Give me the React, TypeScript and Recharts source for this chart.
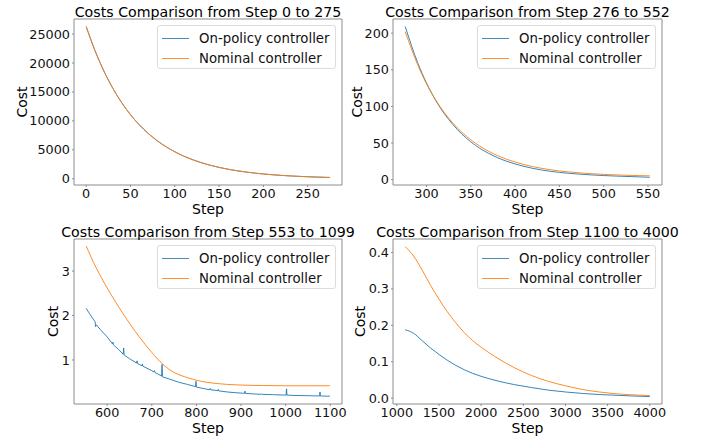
import React from "react";
import { Label, Line, LineChart, ReferenceArea, XAxis, YAxis } from "recharts";

// panel 1: steps 0-275
const steps1 = [0, 10, 20, 30, 40, 50, 60, 70, 80, 90, 100, 110, 120, 130, 140, 150, 160, 170, 180, 190, 200, 210, 220, 230, 240, 250, 260, 270, 275];
const onPolicy1 = [26300, 22120, 18610, 15650, 13165, 11070, 9315, 7835, 6590, 5545, 4665, 3920, 3300, 2775, 2335, 1963, 1652, 1390, 1169, 983, 827, 696, 585, 492, 414, 348, 293, 246, 225];
const nominal1 = [26300, 22120, 18610, 15650, 13165, 11070, 9315, 7835, 6590, 5545, 4665, 3920, 3300, 2775, 2335, 1963, 1652, 1390, 1169, 983, 827, 696, 585, 492, 414, 348, 293, 246, 225];

// panel 2: steps 276-552
const steps2 = [276, 290, 300, 310, 320, 330, 340, 350, 360, 370, 380, 390, 400, 420, 440, 460, 480, 500, 520, 540, 552];
const onPolicy2 = [209, 159.8, 132, 109, 90.3, 74.9, 62.1, 51.6, 43, 36, 30.1, 25.3, 21.4, 15.4, 11.4, 8.7, 6.9, 5.6, 4.6, 3.8, 3.2];
const nominal2 = [202, 157, 131, 109.5, 91.7, 76.9, 64.6, 54.4, 45.9, 38.8, 32.9, 28, 24, 17.8, 13.5, 10.6, 8.55, 7.15, 6.2, 5.5, 5.2];

// panel 3: steps 553-1099 (on-policy run has short spikes)
const steps3a = [553, 560, 570, 573, 574, 576, 585, 600, 612, 613, 614, 625, 636, 637, 638, 650, 666, 667, 668, 678, 679, 680, 700, 705, 706, 707, 722, 723, 724, 740, 760, 780, 798, 799, 800, 820, 830, 831, 832, 848, 849, 850, 870, 886, 887, 888, 908, 909, 910, 930, 945, 946, 947, 970, 1001, 1002, 1003, 1030, 1050, 1076, 1077, 1078, 1099];
const onPolicy3 = [2.16, 2.05, 1.9, 1.86, 1.75, 1.79, 1.68, 1.52, 1.36, 1.4, 1.34, 1.24, 1.13, 1.27, 1.11, 1.03, 0.93, 0.98, 0.92, 0.87, 0.91, 0.86, 0.76, 0.73, 0.76, 0.72, 0.64, 0.9, 0.62, 0.57, 0.5, 0.45, 0.4, 0.52, 0.39, 0.35, 0.33, 0.36, 0.33, 0.31, 0.34, 0.305, 0.28, 0.265, 0.28, 0.263, 0.25, 0.3, 0.248, 0.235, 0.228, 0.24, 0.227, 0.22, 0.21, 0.35, 0.208, 0.2, 0.197, 0.19, 0.28, 0.19, 0.185];
const steps3b = [553, 575, 600, 635, 672, 700, 725, 750, 781, 802, 846, 890, 950, 1000, 1050, 1099];
const nominal3 = [3.56, 3.08, 2.62, 2.05, 1.52, 1.17, 0.9, 0.72, 0.6, 0.54, 0.47, 0.44, 0.425, 0.42, 0.42, 0.42];

// panel 4: steps 1100-4000
const steps4 = [1100, 1200, 1300, 1400, 1500, 1600, 1700, 1800, 1900, 2000, 2200, 2400, 2600, 2800, 3000, 3200, 3400, 3600, 3800, 4000];
const onPolicy4 = [0.188, 0.178, 0.158, 0.138, 0.12, 0.104, 0.09, 0.078, 0.068, 0.06, 0.047, 0.037, 0.029, 0.022, 0.017, 0.013, 0.01, 0.008, 0.006, 0.0045];
const nominal4 = [0.416, 0.39, 0.352, 0.31, 0.272, 0.237, 0.207, 0.18, 0.158, 0.14, 0.109, 0.083, 0.062, 0.046, 0.034, 0.024, 0.017, 0.012, 0.009, 0.007];

const ticksX1 = [0, 50, 100, 150, 200, 250];
const ticksY1 = [0, 5000, 10000, 15000, 20000, 25000];
const ticksX2 = [300, 350, 400, 450, 500, 550];
const ticksY2 = [0, 50, 100, 150, 200];
const ticksX3 = [600, 700, 800, 900, 1000, 1100];
const ticksY3 = [1, 2, 3];
const ticksX4 = [1000, 1500, 2000, 2500, 3000, 3500, 4000];
const ticksY4 = [0, 0.1, 0.2, 0.3, 0.4];

const FONT = "'DejaVu Sans', sans-serif";
const BLUE = "#1f77b4";
const ORANGE = "#ff7f0e";
const SPINE = "#8c8c8c";

const toPoints = (steps: number[], values: number[]) =>
  steps.map((step, i) => ({ step, cost: values[i] }));

type PanelProps = {
  title: string;
  left: number;
  top: number;
  width: number;
  marginTop: number;
  marginRight: number;
  yAxisWidth: number;
  yLabelX: number;
  xDomain: [number, number];
  yDomain: [number, number];
  xTicks: number[];
  yTicks: number[];
  yFormat?: (v: number) => string;
  onPolicy: { step: number; cost: number }[];
  nominal: { step: number; cost: number }[];
  blueType: "monotone" | "linear";
};

const HEIGHT = 219;
const X_AXIS_H = 34;

function LegendBox({ x, y }: { x: number; y: number }) {
  const rows = [
    { name: "On-policy controller", color: BLUE },
    { name: "Nominal controller", color: ORANGE }
  ];
  return (
    <div
      style={{
        position: "absolute",
        left: x,
        top: y,
        width: 179,
        height: 44,
        boxSizing: "border-box",
        border: "1px solid #dcdcdc",
        borderRadius: 3,
        background: "rgba(255,255,255,0.8)",
        fontFamily: FONT,
        fontSize: 13.3,
        color: "#111"
      }}
    >
      {rows.map((r, i) => (
        <div
          key={r.name}
          style={{
            position: "absolute",
            left: 4,
            top: 2 + i * 20,
            height: 20,
            display: "flex",
            alignItems: "center",
            whiteSpace: "nowrap"
          }}
        >
          <span style={{ display: "inline-block", width: 27, height: 1, background: r.color, opacity: 0.85, marginRight: 10 }} />
          <span>{r.name}</span>
        </div>
      ))}
    </div>
  );
}

function Panel(p: PanelProps) {
  const plotLeft = p.yAxisWidth;
  const plotRight = p.width - p.marginRight;
  const plotBottom = HEIGHT - X_AXIS_H;
  const plotTop = p.marginTop;
  const cx = (plotLeft + plotRight) / 2;
  const cy = (plotTop + plotBottom) / 2;
  const tickStyle = { fontSize: 12.8, fontFamily: FONT, fill: "#111" };

  return (
    <div style={{ position: "absolute", left: p.left, top: p.top, width: p.width, height: HEIGHT }}>
      <LineChart
        width={p.width}
        height={HEIGHT}
        margin={{ top: p.marginTop, right: p.marginRight, bottom: 0, left: 0 }}
      >
        <XAxis
          type="number"
          dataKey="step"
          domain={p.xDomain}
          ticks={p.xTicks}
          allowDataOverflow
          height={X_AXIS_H}
          axisLine={false}
          tickSize={2}
          tickMargin={2}
          tickLine={{ stroke: SPINE }}
          tick={tickStyle}
          interval={0}
        >
          <Label
            content={() => (
              <text x={cx} y={plotBottom + 29} textAnchor="middle" fontSize={14} fontFamily={FONT} fill="#000">
                Step
              </text>
            )}
          />
        </XAxis>
        <YAxis
          type="number"
          domain={p.yDomain}
          ticks={p.yTicks}
          allowDataOverflow
          width={p.yAxisWidth}
          axisLine={false}
          tickSize={2}
          tickMargin={2}
          tickLine={{ stroke: SPINE }}
          tick={tickStyle}
          tickFormatter={p.yFormat}
          interval={0}
        >
          <Label
            content={() => (
              <text
                x={p.yLabelX}
                y={cy}
                transform={`rotate(-90 ${p.yLabelX} ${cy})`}
                textAnchor="middle"
                dominantBaseline="central"
                fontSize={14}
                fontFamily={FONT}
                fill="#000"
              >
                Cost
              </text>
            )}
          />
        </YAxis>
        <Line
          data={p.onPolicy}
          dataKey="cost"
          name="On-policy controller"
          type={p.blueType}
          stroke={BLUE}
          strokeWidth={0.9}
          dot={false}
          isAnimationActive={false}
        />
        <Line
          data={p.nominal}
          dataKey="cost"
          name="Nominal controller"
          type="monotone"
          stroke={ORANGE}
          strokeWidth={0.9}
          dot={false}
          isAnimationActive={false}
        />
        <ReferenceArea
          x1={p.xDomain[0]}
          x2={p.xDomain[1]}
          y1={p.yDomain[0]}
          y2={p.yDomain[1]}
          fill="none"
          stroke={SPINE}
          strokeWidth={1}
          ifOverflow="visible"
        />
      </LineChart>
      <div
        style={{
          position: "absolute",
          left: cx - 200,
          width: 400,
          top: plotTop - 14,
          textAlign: "center",
          fontFamily: FONT,
          fontSize: 14.2,
          lineHeight: "14.2px",
          whiteSpace: "nowrap",
          color: "#000"
        }}
      >
        {p.title}
      </div>
      <LegendBox x={plotRight - 185} y={plotTop + 6} />
    </div>
  );
}

export default function App() {
  return (
    <div style={{ position: "absolute", left: 0, top: 0, width: 713, height: 438, background: "#fff", overflow: "hidden" }}>
      <Panel
        title="Costs Comparison from Step 0 to 275"
        left={0}
        top={0}
        width={356}
        marginTop={19}
        marginRight={14}
        yAxisWidth={74}
        yLabelX={22}
        xDomain={[-13.75, 288.75]}
        yDomain={[-1079, 27604]}
        xTicks={ticksX1}
        yTicks={ticksY1}
        onPolicy={toPoints(steps1, onPolicy1)}
        nominal={toPoints(steps1, nominal1)}
        blueType="monotone"
      />
      <Panel
        title="Costs Comparison from Step 276 to 552"
        left={340}
        top={0}
        width={373}
        marginTop={19}
        marginRight={51}
        yAxisWidth={53}
        yLabelX={16.5}
        xDomain={[262.2, 565.8]}
        yDomain={[-7.3, 219.3]}
        xTicks={ticksX2}
        yTicks={ticksY2}
        onPolicy={toPoints(steps2, onPolicy2)}
        nominal={toPoints(steps2, nominal2)}
        blueType="monotone"
      />
      <Panel
        title="Costs Comparison from Step 553 to 1099"
        left={0}
        top={219}
        width={356}
        marginTop={20}
        marginRight={14}
        yAxisWidth={74}
        yLabelX={53}
        xDomain={[525.7, 1126.3]}
        yDomain={[0.01, 3.72]}
        xTicks={ticksX3}
        yTicks={ticksY3}
        onPolicy={toPoints(steps3a, onPolicy3)}
        nominal={toPoints(steps3b, nominal3)}
        blueType="linear"
      />
      <Panel
        title="Costs Comparison from Step 1100 to 4000"
        left={340}
        top={219}
        width={373}
        marginTop={20}
        marginRight={51}
        yAxisWidth={53}
        yLabelX={20}
        xDomain={[955, 4145]}
        yDomain={[-0.016, 0.437]}
        xTicks={ticksX4}
        yTicks={ticksY4}
        yFormat={(v: number) => v.toFixed(1)}
        onPolicy={toPoints(steps4, onPolicy4)}
        nominal={toPoints(steps4, nominal4)}
        blueType="monotone"
      />
    </div>
  );
}
